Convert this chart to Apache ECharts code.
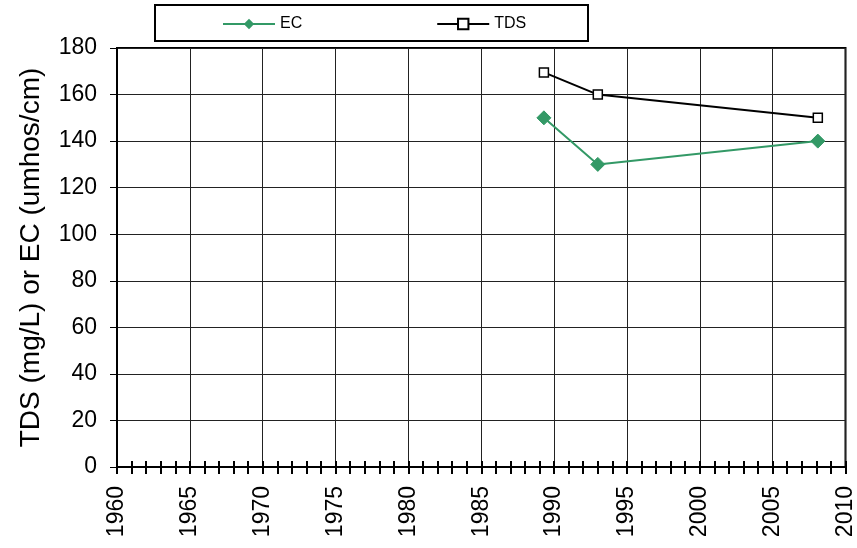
<!DOCTYPE html>
<html>
<head>
<meta charset="utf-8">
<script src="https://cdn.jsdelivr.net/npm/echarts@6/dist/echarts.min.js"></script>
<style>html,body{margin:0;padding:0;background:#fff}#c{width:857px;height:548px}</style>
</head>
<body>
<div id="c"></div>
<script>
var ecYears = [1989.3, 1993.0, 2008.1];
var ecValues = [150, 130, 140];
var tdsYears = [1989.3, 1993.0, 2008.1];
var tdsValues = [169.5, 160, 150];
var seriesNames = ['EC', 'TDS'];
var yAxisTitle = 'TDS (mg/L) or EC (umhos/cm)';

var font = '"Liberation Sans", Arial, sans-serif';
function pairs(xs, ys) { return xs.map(function (x, i) { return [x, ys[i]]; }); }

var chart = echarts.init(document.getElementById('c'), null, {renderer: 'canvas'});
chart.setOption({
  animation: false,
  backgroundColor: '#fff',
  grid: {left: 117, right: 11, top: 48, bottom: 81, show: true, borderColor: '#000', borderWidth: 2, backgroundColor: 'transparent'},
  graphic: [{
    type: 'rect', left: 154, top: 4, shape: {width: 433, height: 36},
    style: {fill: '#fff', stroke: '#000', lineWidth: 2}, z: 0
  }],
  legend: {
    left: 217, top: 11, itemGap: 134, itemWidth: 52, itemHeight: 13,
    textStyle: {fontFamily: font, fontSize: 16, color: '#000'},
    data: seriesNames, z: 10
  },
  xAxis: [{
    type: 'value', min: 1960, max: 2010, interval: 5,
    axisLine: {lineStyle: {color: '#000', width: 2}},
    axisTick: {show: true, length: 7, lineStyle: {color: '#000', width: 2}},
    minorTick: {show: true, splitNumber: 5, length: 7, lineStyle: {color: '#000', width: 2}},
    splitLine: {show: true, lineStyle: {color: '#222', width: 1}},
    axisLabel: {rotate: 90, margin: 19, fontFamily: font, fontSize: 23, color: '#000',
      formatter: function (v) { return String(v); }}
  }, {
    type: 'value', min: 1960, max: 2010, interval: 5, position: 'bottom',
    axisLine: {show: false},
    axisTick: {show: true, inside: true, length: 6, lineStyle: {color: '#000', width: 2}},
    minorTick: {show: true, splitNumber: 5, length: 6, lineStyle: {color: '#000', width: 2}},
    splitLine: {show: false},
    axisLabel: {show: false}
  }],
  yAxis: {
    type: 'value', min: 0, max: 180, interval: 20,
    name: yAxisTitle, nameLocation: 'middle', nameGap: 72, nameRotate: 90,
    nameTextStyle: {fontFamily: font, fontSize: 28, color: '#000'},
    axisLine: {show: true, lineStyle: {color: '#000', width: 2}},
    axisTick: {show: true, length: 7, lineStyle: {color: '#000', width: 1}},
    splitLine: {show: true, lineStyle: {color: '#222', width: 1}},
    axisLabel: {margin: 20, fontFamily: font, fontSize: 23, color: '#000'}
  },
  series: [{
    name: seriesNames[0], type: 'line', data: pairs(ecYears, ecValues),
    symbol: 'diamond', symbolSize: 14,
    lineStyle: {color: '#339966', width: 2},
    itemStyle: {color: '#339966', borderColor: '#339966'},
    z: 5
  }, {
    name: seriesNames[1], type: 'line', data: pairs(tdsYears, tdsValues),
    symbol: 'rect', symbolSize: 9,
    lineStyle: {color: '#000', width: 2},
    itemStyle: {color: '#fff', borderColor: '#000', borderWidth: 1.5},
    z: 5
  }]
});
</script>
</body>
</html>
